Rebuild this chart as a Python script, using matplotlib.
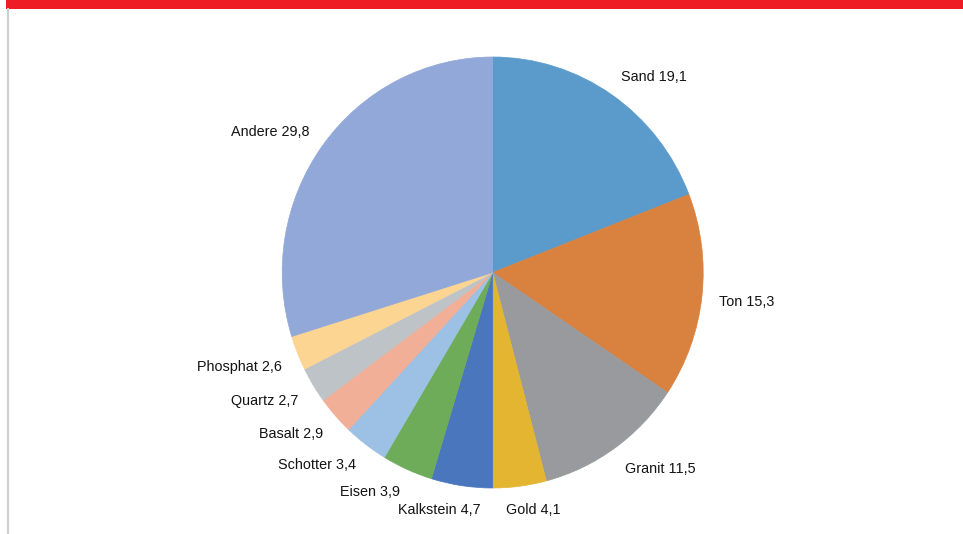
import numpy as np
import matplotlib
matplotlib.use("Agg")
import matplotlib.pyplot as plt
from matplotlib.patches import Rectangle

# ----- Data -----
categories = ["Sand", "Ton", "Granit", "Gold", "Kalkstein", "Eisen",
              "Schotter", "Basalt", "Quartz", "Phosphat", "Andere"]
values = [19.1, 15.3, 11.5, 4.1, 4.7, 3.9, 3.4, 2.9, 2.7, 2.6, 29.8]
colors = ["#5A9BCB", "#D9823F", "#989A9E", "#E4B530", "#4A76BE", "#6FAC5A",
          "#9CC1E4", "#F0AF96", "#BEC3C8", "#FDD592", "#91A8D8"]

# ----- Layout (pixels) -----
W, H = 963, 534
CX, CY = 492.7, 272.5      # pie centre in image pixels (y down)
RX, RY = 210.5, 215.5      # radius in px (image is slightly stretched)
LABEL_R = 1.08             # where the label anchor sits, in radii

plt.rcParams['font.family'] = ['Liberation Sans', 'DejaVu Sans']

fig = plt.figure(figsize=(W / 100, H / 100), dpi=100)
ax = fig.add_axes([0, 0, 1, 1])

wedges, _ = ax.pie(values, colors=colors, startangle=90, counterclock=False,
                   wedgeprops=dict(linewidth=0.5))
for w in wedges:
    w.set_edgecolor(w.get_facecolor())

ax.set_aspect('auto')
ax.set_xlim((0 - CX) / RX, (W - CX) / RX)
ax.set_ylim((CY - H) / RY, (CY - 0) / RY)
ax.axis('off')

# red band on top + thin grey line on the left
fig.patches.append(Rectangle((6 / W, 1 - 9 / H), 1, 9 / H, transform=fig.transFigure,
                             facecolor="#EE1C25", edgecolor="none"))
fig.add_artist(plt.Line2D([7.5 / W, 7.5 / W], [0, 1 - 9 / H], transform=fig.transFigure,
                          color="#CFCFCF", lw=1.5))

# ----- Labels (Excel style "outside end") -----
texts = []
anchors = []
for w, cat, v in zip(wedges, categories, values):
    phi = np.deg2rad((w.theta1 + w.theta2) / 2)
    s, c = np.cos(phi), np.sin(phi)
    lab = f"{cat} {v:.1f}".replace(".", ",")
    t = ax.text(LABEL_R * s, LABEL_R * c, lab, fontsize=10.4, color="#141414",
                ha='left', va='bottom')
    texts.append(t)
    anchors.append((s, c))

# shift each label so its box hugs the anchor point (left/right, top/bottom blend)
fig.canvas.draw()
renderer = fig.canvas.get_renderer()
for t, (s, c) in zip(texts, anchors):
    bb = t.get_window_extent(renderer)
    ax_disp = ax.transData.transform((LABEL_R * s, LABEL_R * c))
    fh = np.clip(0.5 + 1.6 * s, 0, 1)   # 1 -> left aligned
    fv = np.clip(0.5 + 1.4 * c, 0, 1)   # 1 -> bottom aligned
    x = ax_disp[0] - bb.width * (1 - fh)
    y = ax_disp[1] - bb.height * (1 - fv) - 4 * fv  # descent makes the box too tall
    t.set_position(ax.transData.inverted().transform((x, y)))

fig.savefig("out.png", dpi=100)
